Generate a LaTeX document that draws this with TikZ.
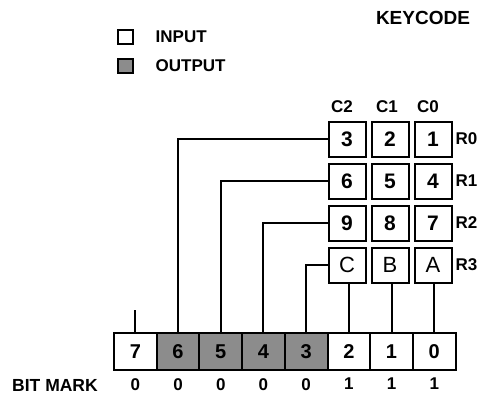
\documentclass[tikz,border=0pt]{standalone}
\usepackage{fontspec}
\setmainfont{Liberation Sans}
\usetikzlibrary{positioning}

\begin{document}
\begin{tikzpicture}[
    x=1pt, y=-1pt,
    key/.style={draw, line width=2pt, rectangle, minimum width=37pt, minimum height=35pt, inner sep=0pt, outer sep=0pt, font=\fontsize{21}{21}\selectfont\bfseries},
    letter/.style={key, font=\fontsize{22}{22}\selectfont},
    bit/.style={draw, line width=2pt, rectangle, minimum width=42.7pt, minimum height=37pt, inner sep=0pt, outer sep=0pt, font=\fontsize{20}{20}\selectfont\bfseries},
    outcell/.style={fill=black!45},
    lbl/.style={font=\fontsize{17}{17}\selectfont\bfseries, inner sep=0pt},
    wire/.style={line width=2pt}
]
    \useasboundingbox (0,0) rectangle (482,397);

    % legend
    \node[lbl, font=\fontsize{19}{19}\selectfont\bfseries] (title) at (423,18) {KEYCODE};
    \node[draw, line width=2pt, minimum width=15pt, minimum height=14pt, inner sep=0pt] (inbox) at (125,37) {};
    \node[lbl] (intext) [right=22pt of inbox] {INPUT};
    \node[draw, line width=2pt, minimum width=15pt, minimum height=14pt, inner sep=0pt, outcell] (outbox) at (125,66) {};
    \node[lbl] (outtext) [right=22pt of outbox] {OUTPUT};

    % key matrix
    \node[key] (k3) at (347,139) {3};
    \node[key] (k2) [right=6pt of k3] {2};
    \node[key] (k1) [right=6pt of k2] {1};
    \node[key] (k6) at (347,181) {6};
    \node[key] (k5) [right=6pt of k6] {5};
    \node[key] (k4) [right=6pt of k5] {4};
    \node[key] (k9) at (347,223) {9};
    \node[key] (k8) [right=6pt of k9] {8};
    \node[key] (k7) [right=6pt of k8] {7};
    \node[letter] (kC) at (347,265) {C};
    \node[letter] (kB) [right=6pt of kC] {B};
    \node[letter] (kA) [right=6pt of kB] {A};

    \node[lbl] (c2) [above=9pt of k3, xshift=-5pt] {C2};
    \node[lbl] (c1) [above=9pt of k2, xshift=-3pt] {C1};
    \node[lbl] (c0) [above=9pt of k1, xshift=-5pt] {C0};

    \node[lbl] (r0) [right=4pt of k1] {R0};
    \node[lbl] (r1) [right=4pt of k4] {R1};
    \node[lbl] (r2) [right=4pt of k7] {R2};
    \node[lbl] (r3) [right=4pt of kA] {R3};

    % bit register
    \node[bit] (b7) at (135.35,351.5) {7};
    \node[bit, outcell] (b6) [right=0pt of b7] {6};
    \node[bit, outcell] (b5) [right=0pt of b6] {5};
    \node[bit, outcell] (b4) [right=0pt of b5] {4};
    \node[bit, outcell] (b3) [right=0pt of b4] {3};
    \node[bit] (b2) [right=0pt of b3] {2};
    \node[bit] (b1) [right=0pt of b2] {1};
    \node[bit] (b0) [right=0pt of b1] {0};

    \node[lbl] (m7) [below=8pt of b7] {0};
    \node[lbl] (m6) [below=8pt of b6] {0};
    \node[lbl] (m5) [below=8pt of b5] {0};
    \node[lbl] (m4) [below=8pt of b4] {0};
    \node[lbl] (m3) [below=8pt of b3] {0};
    \node[lbl] (m2) [below=8pt of b2] {1};
    \node[lbl] (m1) [below=8pt of b1] {1};
    \node[lbl] (m0) [below=8pt of b0] {1};
    \node[lbl, font=\fontsize{17.5}{17.5}\selectfont\bfseries] (bitmark) at (55,385) {BIT MARK};

    % wiring
    \coordinate[above=23pt of b7] (b7top);
    \draw[wire] (b7.north) -- (b7top);
    \draw[wire] (k3.west) -| (b6.north);
    \draw[wire] (k6.west) -| (b5.north);
    \draw[wire] (k9.west) -| (b4.north);
    \draw[wire] (kC.west) -| (b3.north);
    \draw[wire] (b2.north) -- (b2.north |- kC.south);
    \draw[wire] (b1.north) -- (b1.north |- kB.south);
    \draw[wire] (b0.north) -- (b0.north |- kA.south);
\end{tikzpicture}
\end{document}
